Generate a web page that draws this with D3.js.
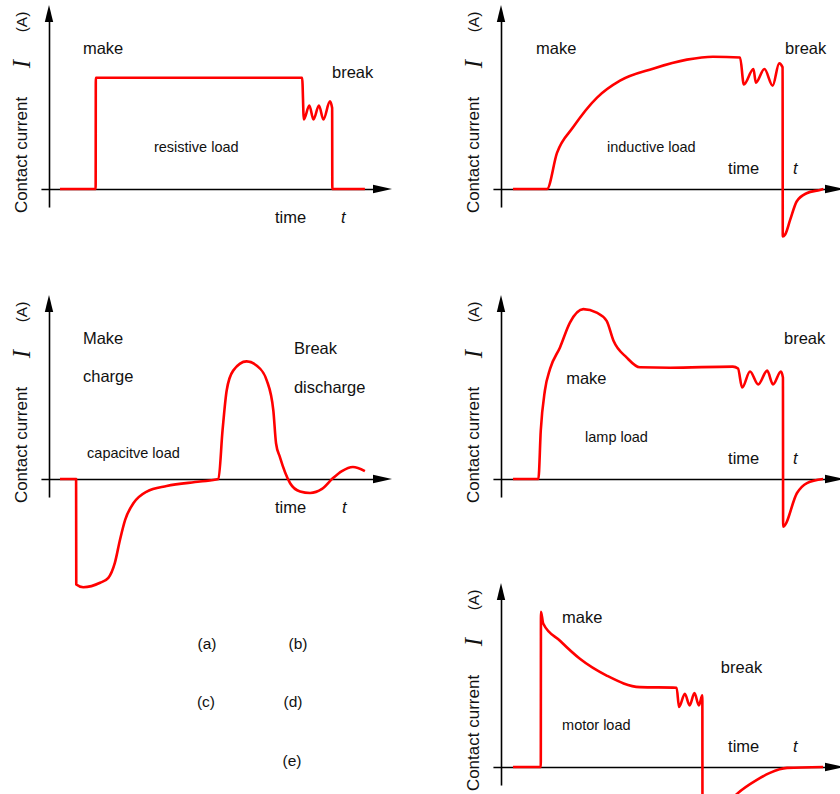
<!DOCTYPE html>
<html><head><meta charset="utf-8">
<script src="https://cdn.jsdelivr.net/npm/d3@7"></script>
<style>
body{margin:0;background:#fff}
svg{display:block}
text{font-family:"Liberation Sans",Arial,Helvetica,sans-serif;fill:#111}
</style>
</head><body>
<svg id="chart" width="840" height="794"></svg>
<script>
// ---------- data (time in % of axis, current in % of axis) ----------
const resistiveT = [3.2, 13.6, 13.65, 73.8, 74.3, 75.9, 77.1, 78.7, 80.0, 81.9, 82.55, 82.6, 92.1];
const resistiveI = [0, 0, 60.5, 60.5, 37.8, 45.4, 37.8, 45.4, 37.8, 47.6, 44, 0, 0];

const inductiveT = [3.5, 13.4, 16.3, 21.0, 28.0, 34.7, 44.3, 54.2, 61.8, 69.7, 70.8, 73.6, 74.3, 76.8, 79.2, 81.1, 82.1, 82.15, 82.8, 84.3, 86.2, 89.1, 93.0, 94.0];
const inductiveI = [0, 0, 19.5, 33.5, 49.7, 58.9, 65.4, 70.3, 71.9, 71.5, 56.8, 65.2, 57.8, 65.2, 56.2, 68.3, 66.1, -25.8, -24.9, -16.8, -6.8, -2.3, -0.5, 0];

const capacitiveT = [3.2, 7.9, 7.95, 10.0, 14.9, 17.3, 19.2, 20.7, 22.2, 24.6, 28.5, 34.3, 44.0, 49.4, 50.6, 51.8, 53.7, 57.6, 60.6, 63.5, 65.4, 66.2, 67.3, 70.3, 73.2, 76.1, 79.6, 82.8, 85.4, 88.6, 92.1];
const capacitiveI = [0, 0, -57.3, -58.8, -56.4, -53.7, -45.6, -33, -22.2, -13.2, -6.8, -3.8, -1.4, 0, 26.5, 48.1, 58.9, 63.9, 61.6, 53.5, 37.3, 19.3, 12, -2.3, -6.8, -7.6, -5.4, 0.5, 4.3, 6.5, 4.3];

const lampT = [3.5, 10.9, 11.6, 12.8, 14.3, 17.2, 20.1, 24.0, 27.9, 30.8, 32.8, 36.6, 40.5, 49.3, 67.6, 69.1, 70.3, 72.6, 75.0, 77.6, 79.3, 81.6, 82.2, 82.25, 86.3, 89.2, 93.9];
const lampI = [0, 0, 26.5, 48.1, 59.8, 71.5, 85, 92.3, 90.4, 85.9, 75.1, 66.1, 60.7, 60.5, 61.1, 60, 49.7, 58.4, 51.4, 58.9, 51.4, 58.4, 55.1, -25.9, -7.6, -2.2, 0];

const motorT = [3.5, 11.6, 11.65, 12.3, 17.2, 23.0, 30.8, 40.5, 51.2, 51.9, 53.6, 55.0, 56.4, 57.7, 58.7, 58.75, 64.0, 68.8, 74.6, 78.4, 83.4, 93.9];
const motorI = [0, 0, 84.3, 78, 68.6, 58.8, 49.7, 43.4, 43.1, 32.6, 39.8, 33.5, 40.2, 33.5, 38.9, -32, -24, -14.6, -7, -3.2, -0.5, 0];

// annotation texts
const resistiveNotes = ["make", "break", "resistive load", "time", "t"];
const inductiveNotes = ["make", "break", "inductive load", "time", "t"];
const capacitiveNotes = ["Make", "charge", "Break", "discharge", "capacitve load", "time", "t"];
const lampNotes = ["break", "make", "lamp load", "time", "t"];
const motorNotes = ["make", "break", "motor load", "time", "t"];
const captions = ["(a)", "(b)", "(c)", "(d)", "(e)"];
const yLabelParts = ["Contact current", "I", "(A)"];

// ---------- layout ----------
const noteAnchors = {
  resistive: [[9.9, 76.8], [82.5, 63.8], [30.6, 22.7], [65.9, -15.1], [85.1, -15.1]],
  inductive: [[10.2, 76.8], [82.8, 76.8], [30.9, 22.7], [66.2, 11.4], [85.1, 11.4]],
  capacitive: [[9.9, 76.8], [9.9, 55.7], [71.4, 71.4], [71.4, 49.7], [11.1, 14.1], [65.9, -15.1], [85.4, -15.1]],
  lamp: [[82.5, 76.8], [19.0, 55.1], [24.5, 23.2], [66.2, 11.4], [85.1, 11.4]],
  motor: [[17.8, 81.6], [64.1, 54.1], [17.8, 23.2], [66.2, 11.4], [85.1, 11.4]]
};
const panels = [
  {ox: 49, oy: 189, t: resistiveT, i: resistiveI, notes: resistiveNotes, anchors: noteAnchors.resistive},
  {ox: 501, oy: 189, t: inductiveT, i: inductiveI, notes: inductiveNotes, anchors: noteAnchors.inductive},
  {ox: 49, oy: 479, t: capacitiveT, i: capacitiveI, notes: capacitiveNotes, anchors: noteAnchors.capacitive},
  {ox: 501, oy: 479, t: lampT, i: lampI, notes: lampNotes, anchors: noteAnchors.lamp},
  {ox: 501, oy: 767, t: motorT, i: motorI, notes: motorNotes, anchors: noteAnchors.motor}
];
const captionPos = [[207, 643], [298, 643], [206, 701], [293, 701], [292, 760]];
const W = 343, H = 184;

const svg = d3.select("#chart");

panels.forEach(p => {
  const x = d3.scaleLinear().domain([0, 100]).range([p.ox, p.ox + W]);
  const y = d3.scaleLinear().domain([0, 100]).range([p.oy, p.oy - H]);
  const g = svg.append("g");

  // axes (domain lines only)
  const xa = x.copy().domain([-2.35, 96]).range([x(-2.35), x(96)]);
  const ya = y.copy().domain([-9.8, 95]).range([y(-9.8), y(95)]);
  g.append("g").attr("transform", `translate(0,${p.oy})`)
    .call(d3.axisBottom(xa).tickValues([]).tickSizeOuter(0))
    .select(".domain").attr("stroke", "#000").attr("stroke-width", 1.6);
  g.append("g").attr("transform", `translate(${p.ox},0)`)
    .call(d3.axisLeft(ya).tickValues([]).tickSizeOuter(0))
    .select(".domain").attr("stroke", "#000").attr("stroke-width", 1.6);
  // arrowheads
  const xt = x(100), yt = y(100);
  g.append("path").attr("d", `M${xt},${p.oy} L${xt - 19},${p.oy - 4.2} L${xt - 19},${p.oy + 4.2} Z`).attr("fill", "#000");
  g.append("path").attr("d", `M${p.ox},${yt} L${p.ox - 4.2},${yt + 17} L${p.ox + 4.2},${yt + 17} Z`).attr("fill", "#000");

  // curve
  const pts = d3.zip(p.t, p.i);
  const line = d3.line().x(d => x(d[0])).y(d => y(d[1])).curve(d3.curveMonotoneX);
  g.append("path").datum(pts).attr("d", line)
    .attr("fill", "none").attr("stroke", "#ff0000").attr("stroke-width", 2.6)
    .attr("stroke-linejoin", "round").attr("stroke-linecap", "butt");

  // annotations
  p.notes.forEach((txt, k) => {
    const [tx, ty] = p.anchors[k];
    const isLoad = /load/.test(txt);
    const isT = txt === "t";
    g.append("text").attr("x", x(tx)).attr("y", y(ty)).attr("dy", "0.36em")
      .attr("font-size", isLoad ? 14.5 : 16.5)
      .attr("font-style", isT ? "italic" : null)
      .text(txt);
  });

  // y label
  const lx = p.ox - 28;
  g.append("text").attr("transform", `translate(${lx},${p.oy - 34}) rotate(-90)`)
    .attr("text-anchor", "middle").attr("dy", "0.36em").attr("font-size", 17).text(yLabelParts[0]);
  g.append("text").attr("transform", `translate(${lx},${p.oy - 125}) rotate(-90)`)
    .attr("text-anchor", "middle").attr("dy", "0.36em").attr("font-size", 25)
    .attr("font-style", "italic").style("font-family", '"Liberation Serif","Times New Roman",serif').text(yLabelParts[1]);
  g.append("text").attr("transform", `translate(${lx},${p.oy - 167}) rotate(-90)`)
    .attr("text-anchor", "middle").attr("dy", "0.36em").attr("font-size", 15.5).text(yLabelParts[2]);
});

captions.forEach((c, k) => {
  svg.append("text").attr("x", captionPos[k][0]).attr("y", captionPos[k][1]).attr("dy", "0.36em")
    .attr("text-anchor", "middle").attr("font-size", 15.5).text(c);
});
</script>
</body></html>
